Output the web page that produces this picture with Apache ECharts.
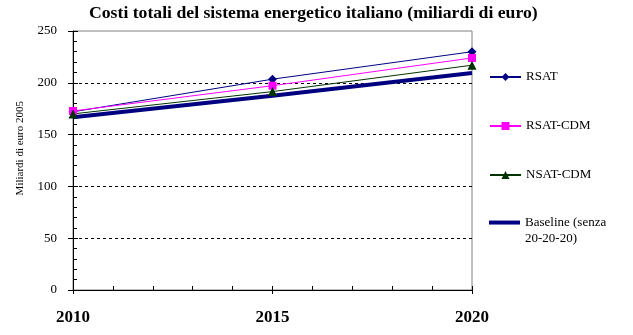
<!DOCTYPE html>
<html><head><meta charset="utf-8">
<script src="https://cdn.jsdelivr.net/npm/echarts@6/dist/echarts.min.js"></script>
<style>html,body{margin:0;padding:0;background:#fff}#c{width:633px;height:335px}</style>
</head><body><div id="c"></div>
<script>
var years = [2010, 2015, 2020];
var rsat = [172, 203.5, 230];
var rsatCdm = [172.8, 197.2, 224];
var nsatCdm = [170, 191.5, 217];
var baseline = [166.8, 187.5, 209.5];
var titleText = 'Costi totali del sistema energetico italiano (miliardi di euro)';
var yName = 'Miliardi di euro 2005';
var names = ['RSAT', 'RSAT-CDM', 'NSAT-CDM', 'Baseline (senza\n20-20-20)'];

function pairs(v){ return years.map(function(y,i){ return [y, v[i]]; }); }
var F = 'Liberation Serif';
var legText = {fontFamily:F, fontSize:13, color:'#000', lineHeight:16};
var chart = echarts.init(document.getElementById('c'), null, {renderer:'canvas'});
chart.setOption({
  animation:false,
  title:{text:titleText, left:84, top:-1,
    textStyle:{fontFamily:F, fontSize:17.7, fontWeight:'bold', color:'#000'}},
  grid:{left:73, right:161, top:31, bottom:45, show:true, borderColor:'#808080', borderWidth:1},
  legend:[{orient:'vertical', left:484, top:64, itemWidth:31, itemHeight:10, itemGap:33,
    textStyle:legText, data:[names[0], names[1], names[2]]},
   {orient:'vertical', left:489, top:216, padding:0, itemWidth:31, itemHeight:10,
    data:[{name:names[3], icon:'path://M0,0h31v4h-31z'}],
    formatter:function(n){ var p = n.split('\n'); return '{a|' + p[0] + '}\n{b|' + p[1] + '}'; },
    textStyle:{fontFamily:F, fontSize:13, color:'#000',
      rich:{a:{fontFamily:F, fontSize:13, color:'#000', lineHeight:32},
            b:{fontFamily:F, fontSize:13, color:'#000', lineHeight:0.1}}}}],
  graphic:[{type:'text', left:15, top:101, rotation:Math.PI/2,
    style:{text:yName, fontFamily:F, fontSize:11, fill:'#000'}}],
  xAxis:[{type:'value', min:2010, max:2020, interval:5, position:'bottom',
    axisLine:{lineStyle:{color:'#000'}},
    axisTick:{show:true, length:4, lineStyle:{color:'#000'}},
    axisLabel:{fontFamily:F, fontSize:17, fontWeight:'bold', color:'#000', margin:19,
      formatter:function(v){ return String(v); }},
    splitLine:{show:false}},
   {type:'value', min:2010, max:2020, interval:5, position:'bottom', offset:0,
    axisLine:{show:false},
    axisTick:{show:true, inside:true, length:4, lineStyle:{color:'#000'}},
    minorTick:{show:true, splitNumber:5, length:4, lineStyle:{color:'#000'}},
    axisLabel:{show:false}, splitLine:{show:false}}],
  yAxis:[{type:'value', min:0, max:250, interval:50,
    axisLine:{show:true, lineStyle:{color:'#000'}},
    axisTick:{show:true, length:5, lineStyle:{color:'#000'}},
    axisLabel:{fontFamily:F, fontSize:13, color:'#000', margin:16},
    splitLine:{show:true, lineStyle:{type:[3,3], width:1,
      color:['rgba(0,0,0,0)','#000','#000','#000','#000','rgba(0,0,0,0)']}}},
   {type:'value', min:0, max:250, interval:50, position:'left',
    axisLine:{show:false},
    axisTick:{show:true, inside:true, length:5, lineStyle:{color:'#000'}},
    minorTick:{show:true, splitNumber:5, length:4, lineStyle:{color:'#000'}},
    axisLabel:{show:false}, splitLine:{show:false}}],
  series:[
    {name:names[0], type:'line', data:pairs(rsat), symbol:'diamond', symbolSize:9,
      lineStyle:{color:'#000080', width:1}, itemStyle:{color:'#000080'}},
    {name:names[1], type:'line', data:pairs(rsatCdm), symbol:'rect', symbolSize:8,
      lineStyle:{color:'#FF00FF', width:1}, itemStyle:{color:'#FF00FF'}},
    {name:names[2], type:'line', data:pairs(nsatCdm), symbol:'triangle', symbolSize:9,
      lineStyle:{color:'#003300', width:1}, itemStyle:{color:'#003300'}},
    {name:names[3], type:'line', data:pairs(baseline), symbol:'none',
      lineStyle:{color:'#000080', width:4}, itemStyle:{color:'#000080'}}
  ]
});
</script></body></html>
